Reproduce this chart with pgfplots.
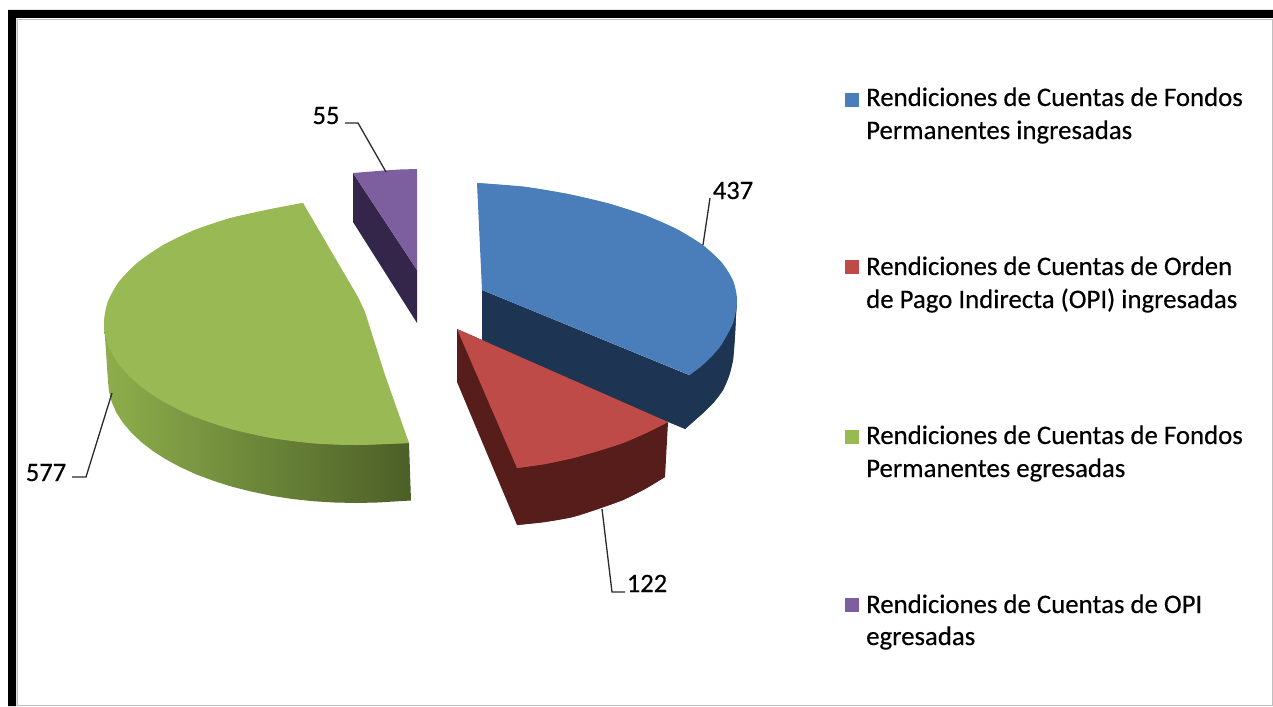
\documentclass[border=0pt]{standalone}
\usepackage{fontspec}
\setmainfont{Carlito}
\newfontfamily\lgfont[FakeBold=0.35]{Carlito}
\usepackage{pgfplots}
\pgfplotsset{compat=1.18}
\definecolor{cblue}{HTML}{4A7EBB}
\definecolor{cblueS}{HTML}{1D3552}
\definecolor{cred}{HTML}{BE4B48}
\definecolor{credS}{HTML}{571D1A}
\definecolor{cgreen}{HTML}{98B954}
\definecolor{cgreenL}{HTML}{8DAE4C}
\definecolor{cgreenD}{HTML}{4C5F27}
\definecolor{cpurple}{HTML}{7D5FA0}
\definecolor{cpurpleS}{HTML}{34264A}
\definecolor{leader}{HTML}{2A2A2A}
\begin{document}
\begin{tikzpicture}
\begin{axis}[
  scale only axis, x=1pt, y=1pt, y dir=reverse,
  xmin=0, xmax=1273, ymin=0, ymax=706,
  hide axis, clip=false,
  every axis plot/.append style={forget plot},
]
% page extent
\addplot[fill=white, draw=none] coordinates {(0,0) (1273,0) (1273,706) (0,706)};
% frame
\addplot[fill=black, draw=none] coordinates {(8,10) (1273,10) (1273,18) (16,18) (16,706) (8,706)};
\addplot[draw=black!25, line width=1pt] coordinates {(17.5,706) (17.5,19.5) (1272,19.5) (1272,705) (17.5,705)};
% green slice: side
\addplot[draw=none, left color=cgreenL, right color=cgreenD] coordinates {
 (104,323) (108,381) (109,391.6) (111.8,402.2) (116.4,412.6) (122.9,422.7) (131.3,432.6) (141.2,442) (152.9,451) (166,459.4) (180.7,467.3) (196.5,474.5) (213.7,480.9) (232,486.7) (251.1,491.5) (271.2,495.7) (291.8,498.9) (312.8,501.2) (334.4,502.5) (356,503) (377.6,502.5) (399.2,501.2) (411,500.5)
 (409,443) (300,400)};
% green slice: top
\addplot[fill=cgreen, draw=none] coordinates {
 (303,203) (269.8,209.3) (230,218.2) (194,230.3) (163,245.2) (137.8,262.5) (119.1,281.6) (107.8,302) (104,323) (107.8,344.2) (119.1,364.7) (137.8,384) (163,401.4) (194,416.5) (230,428.7) (269.8,437.7) (312.2,443.2) (356,445) (409,443)
 (385,375) (365,312) (358,297)};
\addplot[fill=cgreen, draw=none, smooth] coordinates {
 (303,203) (269.8,209.3) (230,218.2) (194,230.3) (163,245.2) (137.8,262.5) (119.1,281.6) (107.8,302) (104,323) (107.8,344.2) (119.1,364.7) (137.8,384) (163,401.4) (194,416.5) (230,428.7) (269.8,437.7) (312.2,443.2) (356,445) (409,443)};
% purple slice
\addplot[fill=cpurpleS, draw=none] coordinates {(353,173) (417,270) (417,323) (353,222)};
\addplot[fill=cpurple, draw=none] coordinates {(353,173) (368,171.8) (383,170.6) (400,169.5) (417,169) (417,270)};
% blue slice: side
\addplot[fill=cblueS, draw=none] coordinates {(482,290) (689,375) (737,300) (736,315) (735,335) (733,360) (729,376) (723,390) (714,402) (703,413) (694,421) (685,429) (482,345)};
\addplot[fill=cblueS, draw=none, smooth] coordinates {(737,300) (736,315) (735,335) (733,360) (729,376) (723,390) (714,402) (703,413) (694,421) (685,429)};
% blue slice: top
\addplot[fill=cblue, draw=none] coordinates {(477,183) (524.6,186.8) (567.9,194) (608.5,203.5) (645.2,215.3) (676.9,229.2) (702.6,245) (721.5,262.4) (733.1,280.9) (737,300) (733.1,322.6) (721.5,344.5) (712.8,355) (702.6,365) (689.5,375) (482,290)};
\addplot[fill=cblue, draw=none, smooth] coordinates {(477,183) (524.6,186.8) (567.9,194) (608.5,203.5) (645.2,215.3) (676.9,229.2) (702.6,245) (721.5,262.4) (733.1,280.9) (737,300) (733.1,322.6) (721.5,344.5) (712.8,355) (702.6,365) (689.5,375)};
% red slice: sides
\addplot[fill=credS, draw=none] coordinates {(457,329) (668,422) (665,477) (645,489) (623,500) (598,509) (573,517) (545,522) (517,525) (457,382)};
\addplot[fill=credS, draw=none, smooth] coordinates {(665,477) (645,489) (623,500) (598,509) (573,517) (545,522) (517,525)};
% red slice: top
\addplot[fill=cred, draw=none] coordinates {(457,329) (517,468) (545,464) (573,458) (598,451) (623,443) (646,433) (668,422)};
\addplot[fill=cred, draw=none, smooth] coordinates {(517,468) (545,464) (573,458) (598,451) (623,443) (646,433) (668,422)};
% leader lines
\addplot[draw=leader, line width=1.3pt] coordinates {(345,123) (358,123) (386,172)};
\addplot[draw=leader, line width=1.3pt] coordinates {(710,198) (703,245)};
\addplot[draw=leader, line width=1.3pt] coordinates {(602,509) (612,592) (625,592)};
\addplot[draw=leader, line width=1.3pt] coordinates {(112,393) (86,477) (72,477)};
% legend keys
\addplot[fill=cblue, draw=none] coordinates {(845,93) (859,93) (859,107) (845,107)};
\addplot[fill=cred, draw=none] coordinates {(845,260) (859,260) (859,274) (845,274)};
\addplot[fill=cgreen, draw=none] coordinates {(845,430) (859,430) (859,444) (845,444)};
\addplot[fill=cpurple, draw=none] coordinates {(845,598) (859,598) (859,612) (845,612)};
% values
\tikzset{vl/.style={font=\lgfont\fontsize{26.5}{26.5}\selectfont, anchor=base, inner sep=0pt}}
\node[vl] at (axis cs:326,124) {55};
\node[vl] at (axis cs:733,199) {437};
\node[vl] at (axis cs:647,592) {122};
\node[vl] at (axis cs:46,481) {577};
% legend text
\tikzset{lg/.style={font=\lgfont\fontsize{26.8}{26.8}\selectfont, anchor=base west, inner sep=0pt}}
\node[lg] at (axis cs:866,106) {Rendiciones de Cuentas de Fondos};
\node[lg] at (axis cs:866,139) {Permanentes ingresadas};
\node[lg] at (axis cs:866,275) {Rendiciones de Cuentas de Orden};
\node[lg] at (axis cs:866,308) {de Pago Indirecta (OPI) ingresadas};
\node[lg] at (axis cs:866,444) {Rendiciones de Cuentas de Fondos};
\node[lg] at (axis cs:866,477) {Permanentes egresadas};
\node[lg] at (axis cs:866,613) {Rendiciones de Cuentas de OPI};
\node[lg] at (axis cs:866,645) {egresadas};
\end{axis}
\end{tikzpicture}
\end{document}
